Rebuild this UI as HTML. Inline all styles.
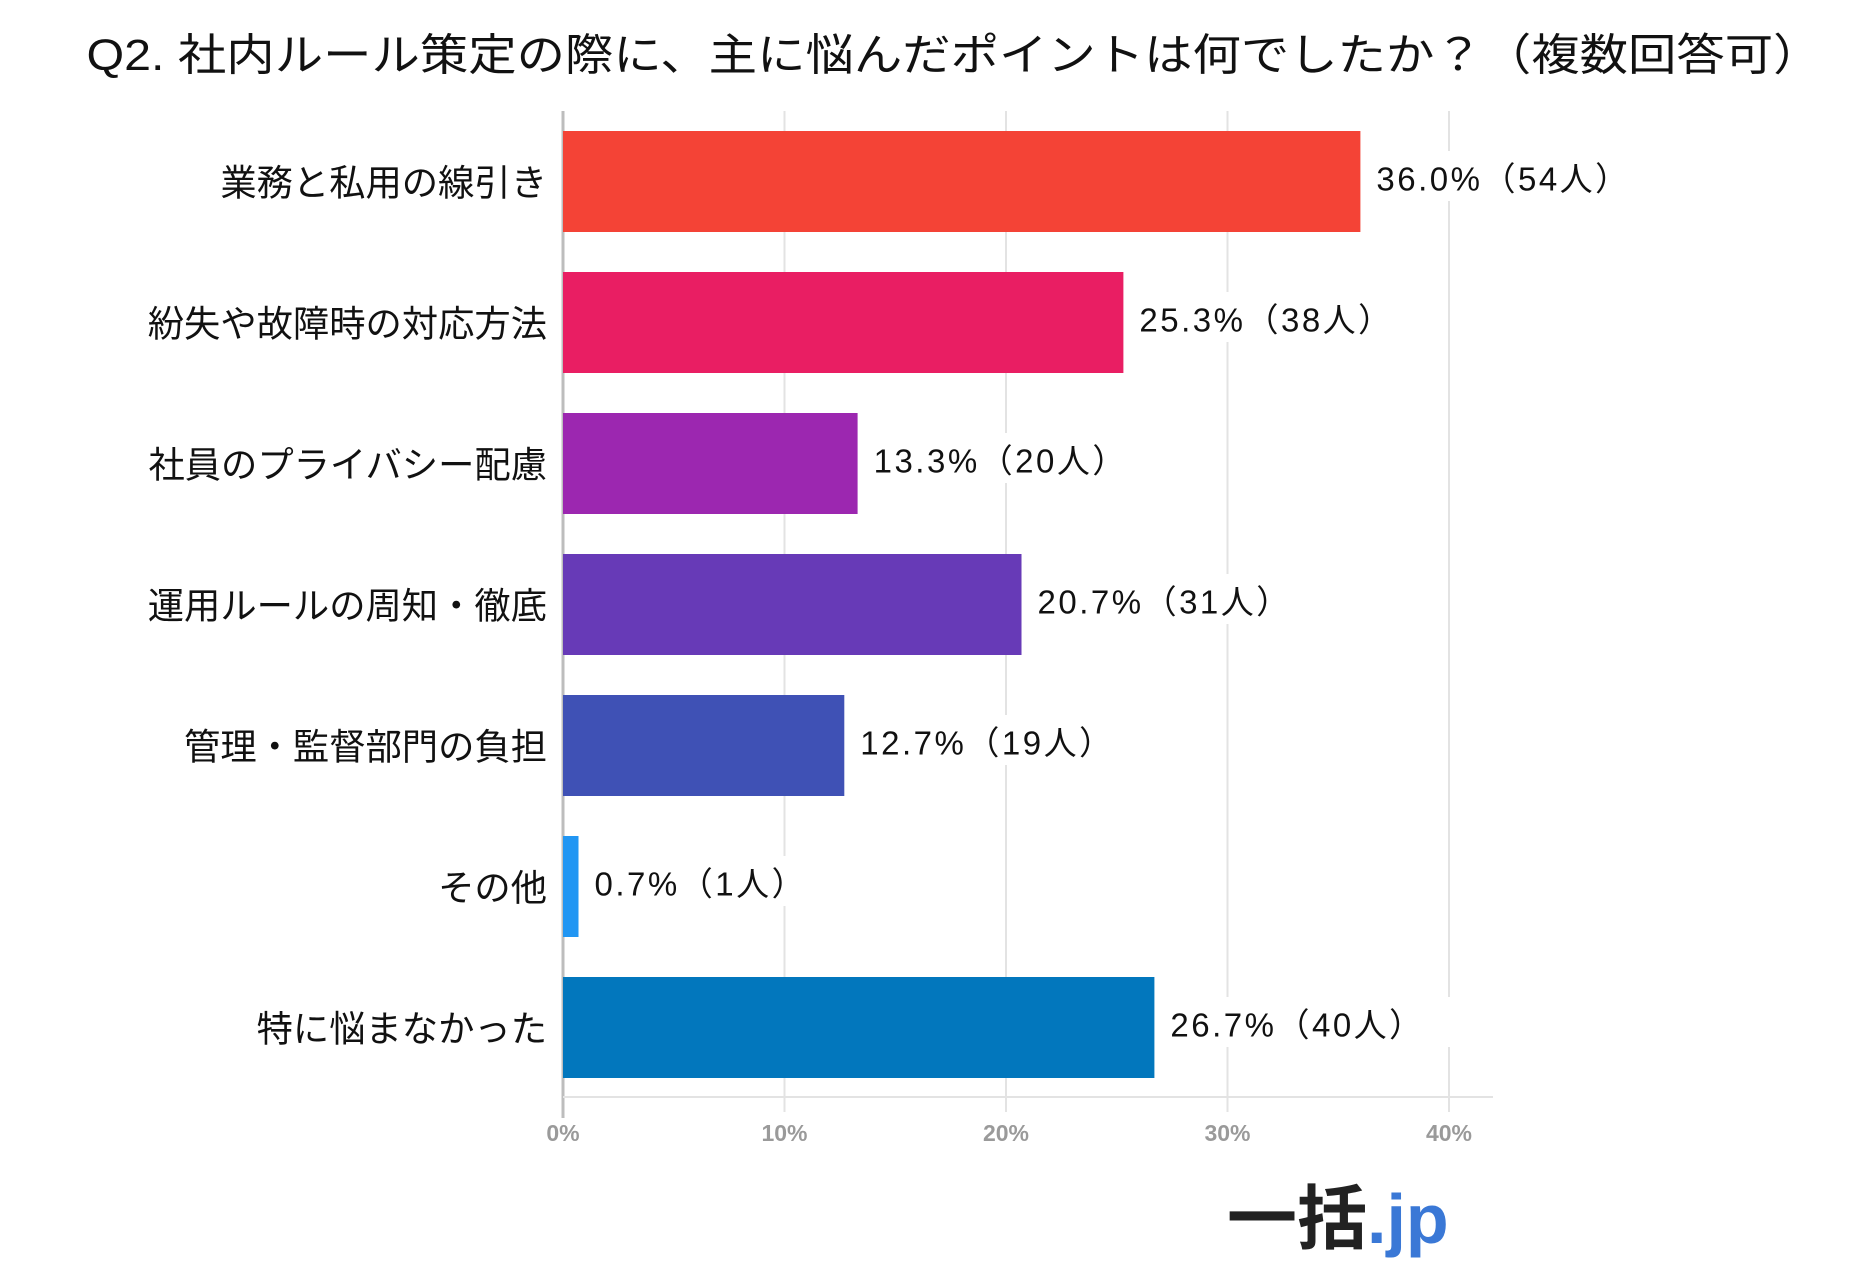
<!DOCTYPE html>
<html><head><meta charset="utf-8"><style>
html,body{margin:0;padding:0;background:#fff;}
svg{display:block;}
</style></head><body>
<svg id="chart" width="1876" height="1278" xmlns="http://www.w3.org/2000/svg">
<rect width="1876" height="1278" fill="#fff"/>
<text x="954" y="70" text-anchor="middle" font-family="'Liberation Sans','Noto Sans CJK JP',sans-serif" font-size="44" fill="#111" textLength="1735" lengthAdjust="spacingAndGlyphs">Q2. 社内ルール策定の際に、主に悩んだポイントは何でしたか？（複数回答可）</text>
<g id="grid"></g>
<g id="bars"></g>
<g id="labels"></g>
<g>
<text x="1227" y="1243" font-family="'Liberation Sans','Noto Sans CJK JP',sans-serif" font-size="70" font-weight="bold" fill="#222">一括<tspan fill="#3a78d6">.jp</tspan></text>
</g>
</svg>
<script>
const categories = ["業務と私用の線引き","紛失や故障時の対応方法","社員のプライバシー配慮","運用ルールの周知・徹底","管理・監督部門の負担","その他","特に悩まなかった"];
const values = [36.0, 25.3, 13.3, 20.7, 12.7, 0.7, 26.7];
const counts = [54, 38, 20, 31, 19, 1, 40];
const colors = ["#F44336","#E91E63","#9C27B0","#673AB7","#3F51B5","#2196F3","#0277BD"];
const ticks = [0, 10, 20, 30, 40];
const tickLabels = ["0%","10%","20%","30%","40%"];

const NS = "http://www.w3.org/2000/svg";
const x0 = 563, pxPer = 22.15;
const xScale = v => x0 + v * pxPer;
const yTop = 131, pitch = 141, barH = 101;
const yScale = i => yTop + i * pitch;
const font = "'Liberation Sans','Noto Sans CJK JP',sans-serif";
function mk(tag, attrs, parent){const e=document.createElementNS(NS,tag);for(const k in attrs)e.setAttribute(k,attrs[k]);parent.appendChild(e);return e;}
const grid=document.getElementById('grid'), bars=document.getElementById('bars'), labels=document.getElementById('labels');

ticks.forEach((t,i)=>{
  const x=xScale(t);
  const l=mk('line',{x1:x,x2:x,y1:111,y2:i===0?1118:1112,stroke:i===0?'#bdbdbd':'#e3e3e3','stroke-width':i===0?3:2},grid);
  
  
  const tx=mk('text',{x:x,y:1141,'text-anchor':'middle','font-family':font,'font-size':23,'font-weight':'bold',fill:'#9a9a9a'},grid);
  tx.textContent=tickLabels[i];
  
  
});
const base=mk('line',{x1:x0,x2:1493,y1:1097,y2:1097,stroke:'#e3e3e3','stroke-width':2},grid);



categories.forEach((c,i)=>{
  const y=yScale(i), w=xScale(values[i])-x0;
  const r=mk('rect',{x:x0,y:y,width:w,height:barH,fill:colors[i]},bars);
  
  
  const lb=mk('text',{x:547,y:y+barH/2+14,'text-anchor':'end','font-family':font,'font-size':36.3,fill:'#111'},labels);
  lb.textContent=c;
  
  
  const vl=mk('rect',{x:xScale(values[i])+6,y:y+20,width:290,height:50,fill:'#fff'},labels);
  
  
  const vt=mk('text',{x:xScale(values[i])+16,y:y+barH/2+9,'font-family':font,'font-size':33,'letter-spacing':'2.5',fill:'#111'},labels);
  vt.textContent=values[i].toFixed(1)+'%（'+counts[i]+'人）';
  
  
});
</script>
</body></html>
